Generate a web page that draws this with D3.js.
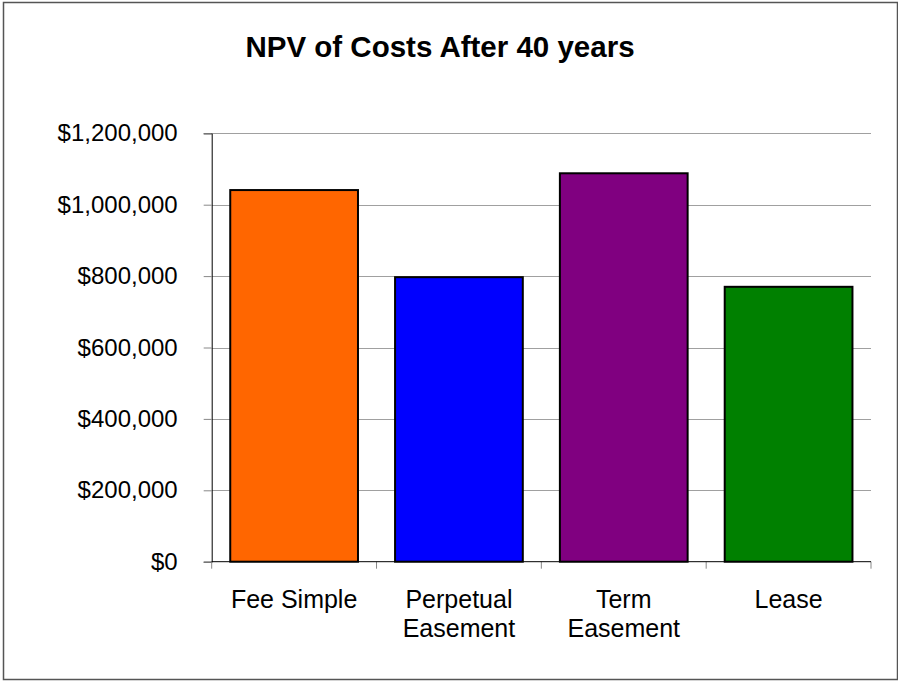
<!DOCTYPE html>
<html>
<head>
<meta charset="utf-8">
<script src="https://cdn.jsdelivr.net/npm/d3@7"></script>
<style>
  body { margin: 0; background: #fff; }
  text { font-family: Arial, "Liberation Sans", sans-serif; fill: #000; }
</style>
</head>
<body>
<div id="chart"></div>
<script>
/* data */
var categories = [["Fee Simple"], ["Perpetual", "Easement"], ["Term", "Easement"], ["Lease"]];
var values = [1041000, 797000, 1088000, 770000];
var barColors = ["#FF6600", "#0000FF", "#800080", "#008000"];
var yTicks = [0, 200000, 400000, 600000, 800000, 1000000, 1200000];

var width = 898, height = 681;
var plot = { left: 211.7, right: 871, top: 133.3, bottom: 561.7 };

var svg = d3
  .select("#chart")
  .append("svg")
  .attr("width", width)
  .attr("height", height);

/* outer frame */
svg
  .append("rect")
  .attr("x", 3.5)
  .attr("y", 2.5)
  .attr("width", 894)
  .attr("height", 677)
  .attr("fill", "#fff")
  .attr("stroke", "#555")
  .attr("stroke-width", 1.5);

/* Scale */
var xScale = d3
  .scaleBand()
  .domain(d3.range(categories.length))
  .range([plot.left, plot.right])
  .paddingInner(0.225)
  .paddingOuter(0.1125);

var yScale = d3
  .scaleLinear()
  .domain([0, 1200000])
  .range([plot.bottom, plot.top]);

/* gridlines */
svg
  .append("g")
  .selectAll("line")
  .data(yTicks.filter(d => d > 0))
  .enter()
  .append("line")
  .attr("x1", plot.left)
  .attr("x2", plot.right)
  .attr("y1", d => Math.round(yScale(d)) + 0.5)
  .attr("y2", d => Math.round(yScale(d)) + 0.5)
  .attr("stroke", "#a0a0a0")
  .attr("stroke-width", 1);

/* y axis */
var yAxis = d3
  .axisLeft(yScale)
  .tickValues(yTicks)
  .tickSize(8)
  .tickPadding(26)
  .tickFormat(d => "$" + d3.format(",")(d));

var gy = svg
  .append("g")
  .attr("transform", `translate(${plot.left}, 0)`)
  .call(yAxis);
gy.select(".domain").attr("stroke", "#000");
gy.selectAll(".tick line").attr("stroke", "#888");
gy.selectAll(".tick text")
  .style("font-size", "24px")
  .attr("fill", "#000");

/* x axis ticks between categories */
var xTickPos = d3.range(categories.length + 1).map(
  i => plot.left + (i * (plot.right - plot.left)) / categories.length
);
svg
  .append("g")
  .selectAll("line")
  .data(xTickPos)
  .enter()
  .append("line")
  .attr("x1", d => d)
  .attr("x2", d => d)
  .attr("y1", plot.bottom)
  .attr("y2", plot.bottom + 7)
  .attr("stroke", "#888");

/* bars */
svg
  .append("g")
  .selectAll("rect")
  .data(values)
  .enter()
  .append("rect")
  .attr("x", (d, i) => xScale(i))
  .attr("y", d => yScale(d))
  .attr("width", xScale.bandwidth())
  .attr("height", d => plot.bottom - yScale(d))
  .attr("fill", (d, i) => barColors[i])
  .attr("stroke", "#000")
  .attr("stroke-width", 2);

/* baseline */
svg
  .append("line")
  .attr("x1", plot.left)
  .attr("x2", plot.right)
  .attr("y1", plot.bottom)
  .attr("y2", plot.bottom)
  .attr("stroke", "#000");

/* category labels */
var labels = svg
  .append("g")
  .selectAll("text")
  .data(categories)
  .enter()
  .append("text")
  .attr("text-anchor", "middle")
  .style("font-size", "25px")
  .attr("x", (d, i) => xScale(i) + xScale.bandwidth() / 2)
  .attr("y", 608);
labels
  .selectAll("tspan")
  .data(d => d)
  .enter()
  .append("tspan")
  .attr("x", function() { return d3.select(this.parentNode).attr("x"); })
  .attr("dy", (d, i) => (i === 0 ? 0 : 29))
  .text(d => d);

/* title */
svg
  .append("text")
  .attr("x", 440)
  .attr("y", 57)
  .attr("text-anchor", "middle")
  .style("font-size", "29.5px")
  .style("font-weight", "bold")
  .text("NPV of Costs After 40 years");
</script>
</body>
</html>
